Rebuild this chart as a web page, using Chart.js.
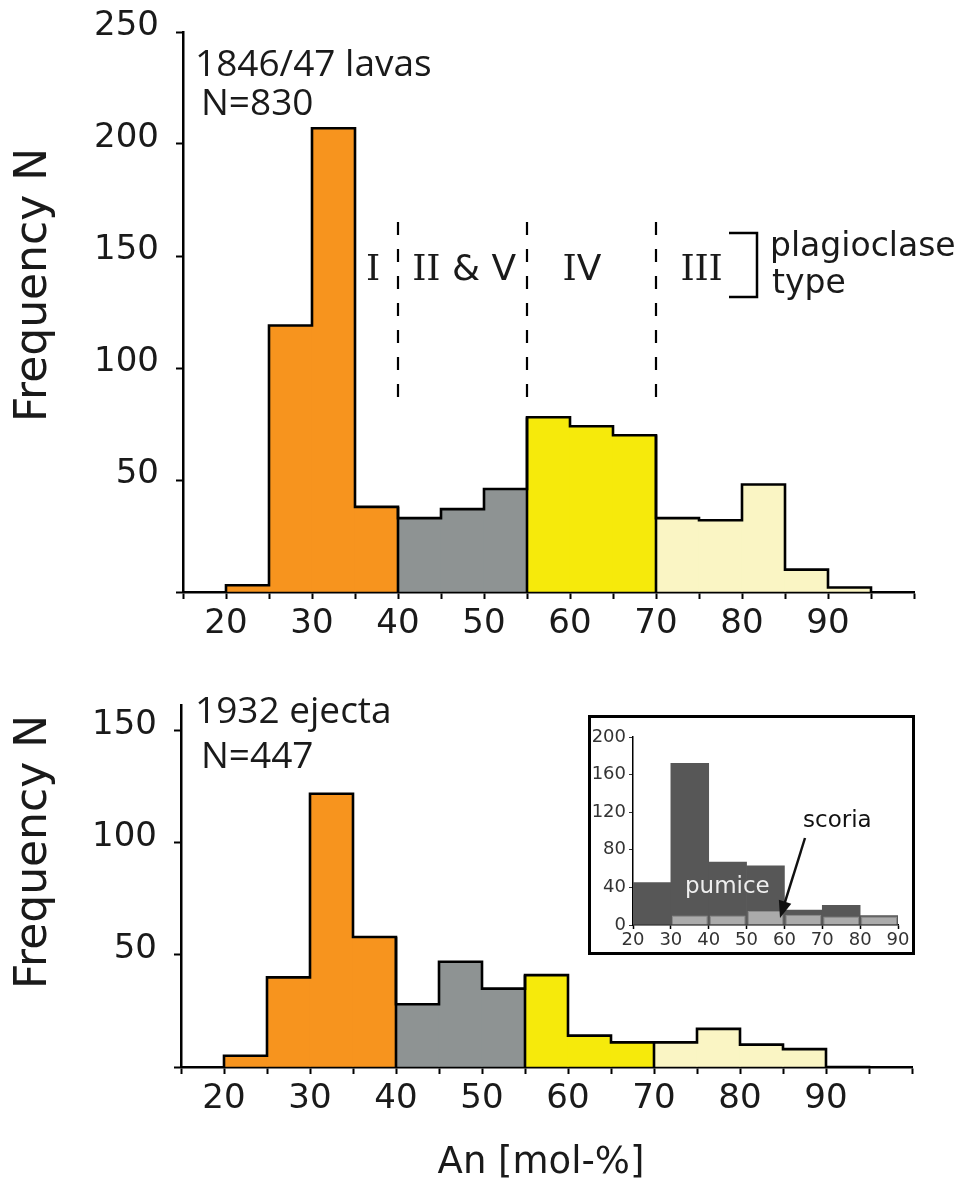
<!DOCTYPE html>
<html><head><meta charset="utf-8">
<script src="https://cdn.jsdelivr.net/npm/chart.js@4.4.1/dist/chart.umd.min.js"></script>
<style>
html,body{margin:0;padding:0;background:#fff;}
body{width:971px;height:1180px;position:relative;overflow:hidden;}
canvas{display:block;}
#c1{position:absolute;left:0;top:0;}
#c2{position:absolute;left:0;top:650px;}
#insetBox{position:absolute;left:588px;top:715px;width:321px;height:234px;border:3px solid #000;background:#fff;}
#c3{position:absolute;left:0;top:0;}
</style></head><body>
<canvas id="c1" width="971" height="650"></canvas>
<canvas id="c2" width="971" height="530"></canvas>
<div id="insetBox"><canvas id="c3" width="321" height="234"></canvas></div>
<script>
// ---------- data ----------
const binStart = [20,25,30,35,40,45,50,55,60,65,70,75,80,85,90];
const binWidth = 5;
const lavas1846 = [3,119,207,38,33,37,46,78,74,70,33,32,48,10,2];
const ejecta1932 = [5,40,122,58,28,47,35,41,14,11,11,17,10,8,0];
const typeBoundaries = [40,55,70];
const typeColors = ['#F7941E','#8E9393','#F6EA0B','#FAF5C4'];
const typeLabels = ['I','II & V','IV','III'];
const dashedRange = [87,170];
const xTickPositions = [15,20,25,30,35,40,45,50,55,60,65,70,75,80,85,90,95,100];
const xTickLabels = [20,30,40,50,60,70,80,90];
const topYTickLabels = [50,100,150,200,250];
const bottomYTickLabels = [50,100,150];
const insetBinStart = [20,30,40,50,60,70,80];
const insetBinWidth = 10;
const insetPumice = [45,172,67,63,16,21,10];
const insetScoria = [0,10,10,15,11,9,9];
const insetXTickLabels = [20,30,40,50,60,70,80,90];
const insetYTickPositions = [0,20,40,60,80,100,120,140,160,180,200];
const insetYTickLabels = [0,40,80,120,160,200];

const INK = '#1a1a1a';
function colorFor(x){ let k=0; typeBoundaries.forEach(b=>{ if(x>=b) k++; }); return typeColors[k]; }

function histDatasets(counts, dashed){
  const ds = [];
  ds.push({type:'bar', data: binStart.map((s,i)=>({x:s+binWidth/2, y:counts[i]})),
    backgroundColor: binStart.map(s=>colorFor(s)), borderWidth:0,
    barPercentage:1, categoryPercentage:1, order:5});
  const pts=[{x:binStart[0],y:0}];
  counts.forEach((c,i)=>pts.push({x:binStart[i],y:c}));
  pts.push({x:binStart[binStart.length-1]+binWidth,y:0});
  ds.push({type:'line', data:pts, stepped:'before', borderColor:'#000', borderWidth:2.6,
    pointRadius:0, fill:false, borderJoinStyle:'miter', borderCapStyle:'square', order:1});
  typeBoundaries.forEach(b=>{
    const i = binStart.indexOf(b);
    const h = Math.max(counts[i-1], counts[i]);
    ds.push({type:'line', data:[{x:b,y:0},{x:b,y:h}], borderColor:'#000', borderWidth:2.6,
      pointRadius:0, fill:false, order:2});
    if(dashed){
      ds.push({type:'line', data:[{x:b,y:dashedRange[0]},{x:b,y:dashedRange[1]}], borderColor:'#000',
        borderWidth:2.2, borderDash:[13,14], pointRadius:0, fill:false, order:2});
    }
  });
  return ds;
}

function axisCommon(){
  return {
    grid:{display:true, drawOnChartArea:false, drawTicks:true, tickLength:7, tickWidth:2, tickColor:'#000', offset:false},
    border:{display:true, color:'#000', width:2.5}
  };
}

function histOptions(yMax, yLabels, pad, xH){
  return {
    responsive:false, animation:false, events:[],
    layout:{padding:pad},
    plugins:{legend:{display:false}, tooltip:{enabled:false}},
    scales:{
      x:Object.assign(axisCommon(),{
        type:'linear', min:15, max:100, offset:false, z:1,
        afterBuildTicks:s=>{ s.ticks = xTickPositions.map(v=>({value:v})); },
        ticks:{autoSkip:false, maxRotation:0, padding:5, color:INK,
          font:{family:'DejaVu Sans', size:34},
          callback:v=> xTickLabels.includes(v) ? String(v) : ''},
        afterFit:s=>{ s.height = xH; }
      }),
      y:Object.assign(axisCommon(),{
        type:'linear', min:0, max:yMax, z:1,
        afterBuildTicks:s=>{ s.ticks = [0].concat(yLabels).map(v=>({value:v})); },
        ticks:{padding:17, color:INK, font:{family:'DejaVu Sans', size:34, lineHeight:0.35},
          callback:v=> yLabels.includes(v) ? [String(v),''] : ''},
        afterFit:s=>{ s.width = pad.leftAxis; }
      })
    }
  };
}

function drawNumeral(ctx, text, cx, baseline, size){
  const sans = size+'px "DejaVu Sans"';
  const serif = size+'px "DejaVu Serif"';
  const iAdv = size*0.39;
  let total=0; const parts=[];
  for(const ch of text){
    if(ch==='I'){ parts.push({ch, w:iAdv, serif:true}); total+=iAdv; }
    else { ctx.font=sans; const w=ctx.measureText(ch).width; parts.push({ch,w,serif:false}); total+=w; }
  }
  let x = cx-total/2;
  ctx.textBaseline='alphabetic';
  parts.forEach(p=>{
    if(p.serif){ ctx.font=serif; ctx.textAlign='center'; ctx.fillText(p.ch, x+p.w/2, baseline); }
    else { ctx.font=sans; ctx.textAlign='left'; ctx.fillText(p.ch, x, baseline); }
    x+=p.w;
  });
}

function yTitle(ctx, cy){
  ctx.save();
  ctx.translate(46, cy);
  ctx.rotate(-Math.PI/2);
  ctx.font='44px "DejaVu Sans"';
  ctx.fillStyle=INK; ctx.textAlign='center'; ctx.textBaseline='alphabetic';
  ctx.fillText('Frequency N',0,0);
  ctx.restore();
}

const topText = {id:'topText', afterDraw(chart){
  const ctx=chart.ctx; ctx.save(); ctx.fillStyle=INK;
  ctx.font='37px "Open Sans"'; ctx.textAlign='left'; ctx.textBaseline='alphabetic';
  ctx.fillText('1846/47 lavas',195,76);
  ctx.fillText('N=830',201,115);
  const xs = chart.scales.x;
  const centers=[37.1,47.7,61.4,75.3];
  typeLabels.forEach((t,i)=>drawNumeral(ctx,t,xs.getPixelForValue(centers[i]),280,36));
  ctx.strokeStyle='#000'; ctx.lineWidth=2.5; ctx.lineJoin='miter';
  ctx.beginPath(); ctx.moveTo(729,233); ctx.lineTo(757,233); ctx.lineTo(757,297); ctx.lineTo(729,297); ctx.stroke();
  ctx.font='33px "DejaVu Sans"'; ctx.textAlign='left';
  ctx.fillText('plagioclase',770,256);
  ctx.fillText('type',772,293);
  yTitle(ctx,285);
  ctx.restore();
}};

const bottomText = {id:'bottomText', afterDraw(chart){
  const ctx=chart.ctx; ctx.save(); ctx.fillStyle=INK;
  ctx.font='37px "Open Sans"'; ctx.textAlign='left'; ctx.textBaseline='alphabetic';
  ctx.fillText('1932 ejecta',195,73);
  ctx.fillText('N=447',201,118);
  ctx.font='37px "DejaVu Sans"'; ctx.textAlign='center';
  ctx.fillText('An [mol-%]',541,523);
  yTitle(ctx,202);
  ctx.restore();
}};

new Chart(document.getElementById('c1'),{
  data:{datasets:histDatasets(lavas1846,true)},
  options:histOptions(250, topYTickLabels, {top:32,right:57,left:0,bottom:0,leftAxis:183}, 58),
  plugins:[topText]
});

new Chart(document.getElementById('c2'),{
  data:{datasets:histDatasets(ejecta1932,false)},
  options:histOptions(161.6, bottomYTickLabels, {top:55,right:59,left:0,bottom:0,leftAxis:181}, 113),
  plugins:[bottomText]
});

// ---------- inset ----------
const insetText = {id:'insetText', afterDraw(chart){
  const ctx=chart.ctx; ctx.save();
  ctx.font='23px "DejaVu Sans"'; ctx.textAlign='left'; ctx.textBaseline='alphabetic';
  ctx.fillStyle='#eeeeee'; ctx.fillText('pumice',94,175);
  ctx.fillStyle='#111'; ctx.fillText('scoria',212,109);
  const x0=214,y0=120,x1=189,y1=200;
  const ang=Math.atan2(y1-y0,x1-x0);
  ctx.strokeStyle='#111'; ctx.lineWidth=2.5;
  ctx.beginPath(); ctx.moveTo(x0,y0); ctx.lineTo(x1-12*Math.cos(ang),y1-12*Math.sin(ang)); ctx.stroke();
  ctx.fillStyle='#111'; ctx.beginPath();
  ctx.moveTo(x1,y1);
  ctx.lineTo(x1-17*Math.cos(ang)+6.5*Math.sin(ang), y1-17*Math.sin(ang)-6.5*Math.cos(ang));
  ctx.lineTo(x1-17*Math.cos(ang)-6.5*Math.sin(ang), y1-17*Math.sin(ang)+6.5*Math.cos(ang));
  ctx.closePath(); ctx.fill();
  ctx.restore();
}};

new Chart(document.getElementById('c3'),{
  type:'bar',
  data:{datasets:[
    {label:'scoria', data:insetBinStart.map((s,i)=>({x:s+insetBinWidth/2, y:insetScoria[i]||null})),
      backgroundColor:'#ababab', borderColor:'#8c8c8c', borderWidth:1, barPercentage:0.95, categoryPercentage:1,
      grouped:false, order:1},
    {label:'pumice', data:insetBinStart.map((s,i)=>({x:s+insetBinWidth/2, y:insetPumice[i]})),
      backgroundColor:'#575757', borderWidth:0, barPercentage:1, categoryPercentage:1,
      grouped:false, order:2}
  ]},
  options:{
    responsive:false, animation:false, events:[],
    layout:{padding:{top:19,right:14,left:0,bottom:0}},
    plugins:{legend:{display:false}, tooltip:{enabled:false}},
    scales:{
      x:{type:'linear', min:20, max:90, offset:false, z:1,
        afterBuildTicks:s=>{ s.ticks = insetXTickLabels.map(v=>({value:v})); },
        ticks:{autoSkip:false, maxRotation:0, padding:1, color:'#333', font:{family:'DejaVu Sans', size:18},
          callback:v=>String(v)},
        grid:{display:true, drawOnChartArea:false, tickLength:4, tickWidth:1.5, tickColor:'#000', offset:false},
        border:{display:true, color:'#000', width:1.5},
        afterFit:s=>{ s.height=27; }},
      y:{type:'linear', min:0, max:200, z:1,
        afterBuildTicks:s=>{ s.ticks = insetYTickPositions.map(v=>({value:v})); },
        ticks:{padding:3, color:'#333', font:{family:'DejaVu Sans', size:18},
          callback:v=> insetYTickLabels.includes(v) ? String(v) : ''},
        grid:{display:true, drawOnChartArea:false, tickLength:4, tickWidth:1, tickColor:'#333'},
        border:{display:true, color:'#000', width:1.5},
        afterFit:s=>{ s.width=42; }}
    }
  },
  plugins:[insetText]
});
</script>
</body></html>
